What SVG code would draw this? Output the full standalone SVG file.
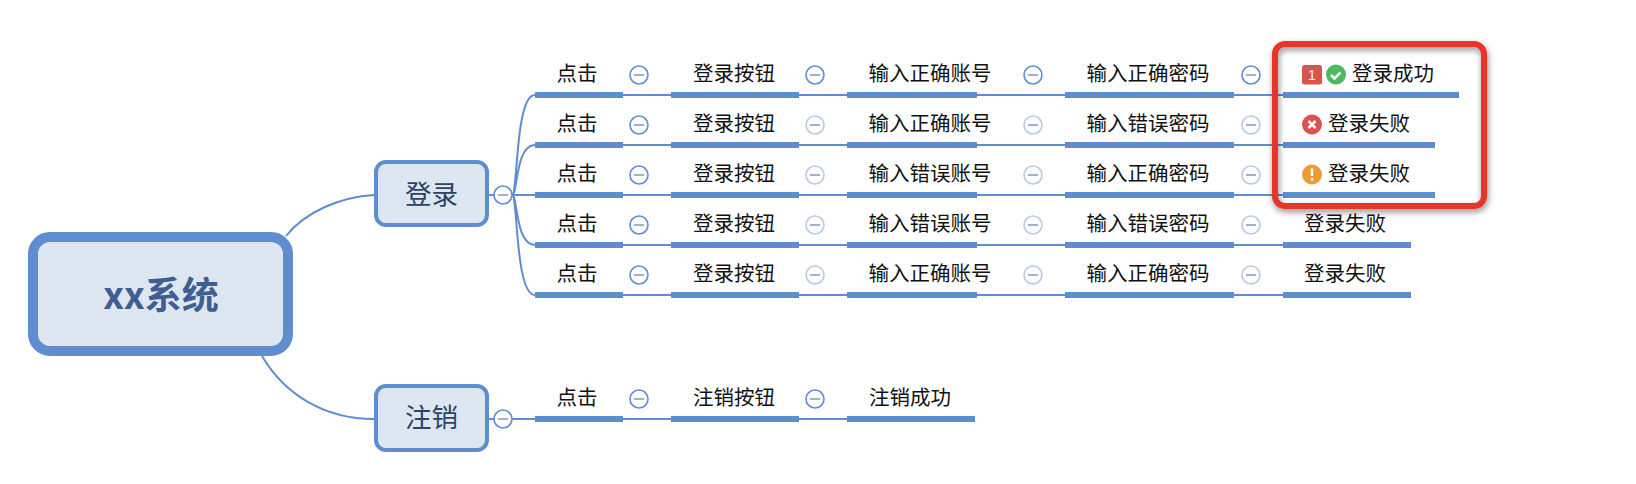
<svg xmlns="http://www.w3.org/2000/svg" width="1636" height="484" viewBox="0 0 1636 484">
<defs><filter id="sh" x="-10%" y="-10%" width="120%" height="125%"><feDropShadow dx="1" dy="3" stdDeviation="3" flood-color="#000" flood-opacity="0.45"/></filter></defs>
<style>
text{font-family:"Noto Sans CJK SC","Liberation Sans",sans-serif;}
.l{fill:none;stroke:#5f8dcf;stroke-width:2}
.b{stroke:#5f8dcf;stroke-width:6;fill:none}
.t{font-size:20.5px;fill:#111;text-anchor:middle}
.n{fill:#dee6f2;stroke:#5f8dcf;stroke-width:4}
.nt{font-size:26.500px;fill:#2c4266;text-anchor:middle}
.c{fill:#fff;stroke:#5f8dcf;stroke-width:1.6}
.cl{fill:#fff;stroke:#b9c9e6;stroke-width:1.6}
.m{stroke:#8d9cc4;stroke-width:1.6}
</style>
<g id="connectors">
<path class="l" d="M286 236C305 212 340 197 374 195"/>
<path class="l" d="M262 356C285 395 325 419 374 419"/>
<path class="l" d="M489 195H494M512 195H535M489 419H494M512 419H535"/>
<path class="l" d="M512 195C518 195 515 95 535 95M512 195C518 195 515 145 535 145M512 195C518 195 515 245 535 245M512 195C518 195 515 295 535 295"/>
<path class="l" d="M623 95H1283M623 145H1283M623 195H1283M623 245H1283M623 295H1283M623 419H847"/>
</g>
<g id="bars">
<path class="b" d="M535 95H623M671 95H799M847 95H977M1065 95H1234M1283 95H1459"/>
<path class="b" d="M535 145H623M671 145H799M847 145H977M1065 145H1234M1283 145H1435"/>
<path class="b" d="M535 195H623M671 195H799M847 195H977M1065 195H1234M1283 195H1435"/>
<path class="b" d="M535 245H623M671 245H799M847 245H977M1065 245H1234M1283 245H1411"/>
<path class="b" d="M535 295H623M671 295H799M847 295H977M1065 295H1234M1283 295H1411"/>
<path class="b" d="M535 419H623M671 419H799M847 419H975"/>
</g>
<g id="root"><rect x="33" y="237" width="255" height="114" rx="17" fill="#dee6f2" stroke="#5f8dcf" stroke-width="10"/><text x="161" y="309" font-size="37" font-weight="700" fill="#3f5f93" text-anchor="middle">xx系统</text></g>
<g id="login"><rect class="n" x="376" y="162" width="111" height="63" rx="10"/><text class="nt" x="431.500" y="204">登录</text></g>
<g id="logout"><rect class="n" x="376" y="386" width="111" height="64" rx="10"/><text class="nt" x="431.500" y="427">注销</text></g>
<g id="toggle-login"><circle class="c" cx="503" cy="195" r="9"/><path class="m" d="M498 195H508"/></g>
<g id="toggle-logout"><circle class="c" cx="503" cy="419" r="9"/><path class="m" d="M498 419H508"/></g>
<g id="toggles">
<g id="t1"><circle class="c" cx="639" cy="75" r="9"/><path class="m" d="M634 75H644"/><circle class="c" cx="815" cy="75" r="9"/><path class="m" d="M810 75H820"/><circle class="c" cx="1033" cy="75" r="9"/><path class="m" d="M1028 75H1038"/><circle class="c" cx="1251" cy="75" r="9"/><path class="m" d="M1246 75H1256"/></g>
<g id="t2"><circle class="c" cx="639" cy="125" r="9"/><path class="m" d="M634 125H644"/><circle class="cl" cx="815" cy="125" r="9"/><path class="m" d="M810 125H820"/><circle class="cl" cx="1033" cy="125" r="9"/><path class="m" d="M1028 125H1038"/><circle class="cl" cx="1251" cy="125" r="9"/><path class="m" d="M1246 125H1256"/></g>
<g id="t3"><circle class="c" cx="639" cy="175" r="9"/><path class="m" d="M634 175H644"/><circle class="cl" cx="815" cy="175" r="9"/><path class="m" d="M810 175H820"/><circle class="cl" cx="1033" cy="175" r="9"/><path class="m" d="M1028 175H1038"/><circle class="cl" cx="1251" cy="175" r="9"/><path class="m" d="M1246 175H1256"/></g>
<g id="t4"><circle class="c" cx="639" cy="225" r="9"/><path class="m" d="M634 225H644"/><circle class="cl" cx="815" cy="225" r="9"/><path class="m" d="M810 225H820"/><circle class="cl" cx="1033" cy="225" r="9"/><path class="m" d="M1028 225H1038"/><circle class="cl" cx="1251" cy="225" r="9"/><path class="m" d="M1246 225H1256"/></g>
<g id="t5"><circle class="c" cx="639" cy="275" r="9"/><path class="m" d="M634 275H644"/><circle class="cl" cx="815" cy="275" r="9"/><path class="m" d="M810 275H820"/><circle class="cl" cx="1033" cy="275" r="9"/><path class="m" d="M1028 275H1038"/><circle class="cl" cx="1251" cy="275" r="9"/><path class="m" d="M1246 275H1256"/></g>
<g id="t6"><circle class="c" cx="639" cy="399" r="9"/><path class="m" d="M634 399H644"/><circle class="c" cx="815" cy="399" r="9"/><path class="m" d="M810 399H820"/></g>
</g>
<g id="labels">
<text class="t" x="577" y="81">点击</text><text class="t" x="734" y="81">登录按钮</text><text class="t" x="930" y="81">输入正确账号</text><text class="t" x="1148" y="81">输入正确密码</text><text class="t" x="1393" y="81">登录成功</text>
<text class="t" x="577" y="131">点击</text><text class="t" x="734" y="131">登录按钮</text><text class="t" x="930" y="131">输入正确账号</text><text class="t" x="1148" y="131">输入错误密码</text><text class="t" x="1369" y="131">登录失败</text>
<text class="t" x="577" y="181">点击</text><text class="t" x="734" y="181">登录按钮</text><text class="t" x="930" y="181">输入错误账号</text><text class="t" x="1148" y="181">输入正确密码</text><text class="t" x="1369" y="181">登录失败</text>
<text class="t" x="577" y="231">点击</text><text class="t" x="734" y="231">登录按钮</text><text class="t" x="930" y="231">输入错误账号</text><text class="t" x="1148" y="231">输入错误密码</text><text class="t" x="1345" y="231">登录失败</text>
<text class="t" x="577" y="281">点击</text><text class="t" x="734" y="281">登录按钮</text><text class="t" x="930" y="281">输入正确账号</text><text class="t" x="1148" y="281">输入正确密码</text><text class="t" x="1345" y="281">登录失败</text>
<text class="t" x="577" y="405">点击</text><text class="t" x="734" y="405">注销按钮</text><text class="t" x="910" y="405">注销成功</text>
</g>
<g id="icons">
<rect x="1302" y="65" width="20" height="19.500" rx="2.500" fill="#d9534f"/><text x="1312" y="80" font-size="14" font-weight="400" fill="#fff" text-anchor="middle" style="font-family:'Liberation Sans',sans-serif">1</text>
<circle cx="1336" cy="74.500" r="10" fill="#4cb963"/><path d="M1331 75l3.500 3.500 6-6" fill="none" stroke="#fff" stroke-width="2.500"/>
<circle cx="1312" cy="124.500" r="10" fill="#d9534f"/><path d="M1308.500 121l7 7M1315.500 121l-7 7" stroke="#fff" stroke-width="2.500"/>
<circle cx="1312" cy="174.500" r="10" fill="#f09a34"/><path d="M1312 168.500v7.500M1312 178v2.500" stroke="#fff" stroke-width="2.500"/>
</g>
<rect id="highlight" x="1275" y="44" width="209" height="162" rx="10" fill="none" stroke="#e8352a" stroke-width="6" filter="url(#sh)"/>
</svg>
